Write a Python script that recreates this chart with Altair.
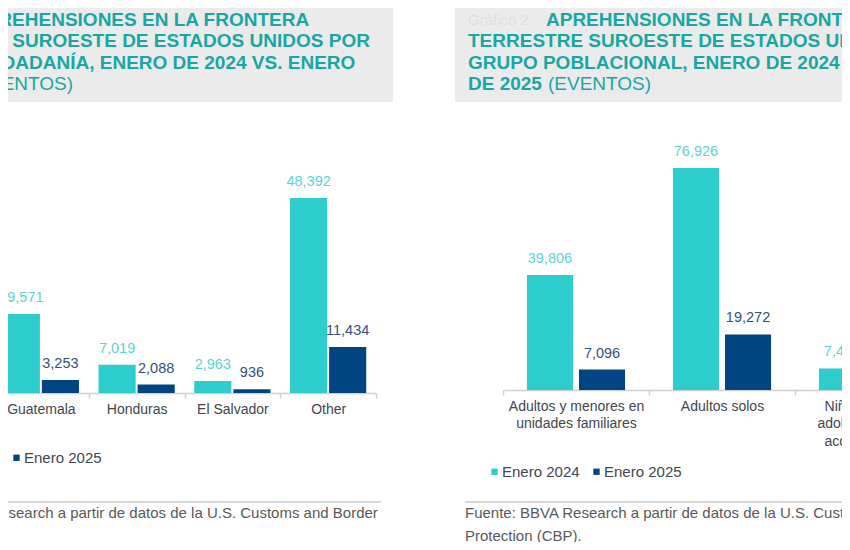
import altair as alt
import pandas as pd

FONT = "Liberation Sans"
TEAL = "#2DCCCD"
NAVY = "#004481"
TITLE = "#19A7A4"
LBL24 = "#5CD3D3"
LBL25 = "#34507A"
AXTXT = "#404650"
GRID = "#D0D0D0"

series = ["Enero 2024", "Enero 2025"]

# Left chart: by citizenship (visible categories)
paises = ["Guatemala", "Honduras", "El Salvador", "Other"]
pais_2024 = [19571, 7019, 2963, 48392]
pais_2025 = [3253, 2088, 936, 11434]

# Right chart: by population group
grupos = ["Adultos y menores en|unidades familiares", "Adultos solos",
          "Niñas, niños y|adolescentes no|acompañados"]
grupo_2024 = [39806, 76926, 7488]
grupo_2025 = [7096, 19272]

left_df = pd.DataFrame({
    "Categoria": paises + paises,
    "Serie": [series[0]] * len(paises) + [series[1]] * len(paises),
    "Valor": pais_2024 + pais_2025,
})
right_df = pd.DataFrame({
    "Categoria": grupos + grupos[:len(grupo_2025)],
    "Serie": [series[0]] * len(grupo_2024) + [series[1]] * len(grupo_2025),
    "Valor": grupo_2024 + grupo_2025,
})


def axis(offset):
    return alt.Axis(orient="bottom", title=None, labelAngle=0, tickBand="extent",
                    domainColor=GRID, domainWidth=1.5, tickColor=GRID, tickSize=5,
                    tickWidth=1.5, labelFont=FONT, labelFontSize=14, labelColor=AXTXT,
                    labelPadding=4, labelLineHeight=17.5, labelLimit=0,
                    labelExpr="split(datum.label, '|')", offset=offset, grid=False)


def legend(x, y):
    return alt.Legend(title=None, orient="none", legendX=x, legendY=y,
                      direction="horizontal", symbolType="square", symbolSize=40,
                      symbolStrokeWidth=0, labelFont=FONT, labelFontSize=15,
                      labelColor=AXTXT, labelOffset=0, columnPadding=9)


def panel(df, cats, xrange, pin, pout, ydomain, yrange, ax_off, lx, ly):
    x = alt.X("Categoria:N", sort=cats,
              scale=alt.Scale(domain=cats, range=xrange, paddingInner=0, paddingOuter=0),
              axis=axis(ax_off))
    xo = alt.XOffset("Serie:N", sort=series,
                     scale=alt.Scale(domain=series, paddingInner=pin, paddingOuter=pout))
    y = alt.Y("Valor:Q", scale=alt.Scale(domain=ydomain, range=yrange), axis=None)
    base = alt.Chart(df)
    bars = base.mark_bar().encode(
        x=x, xOffset=xo, y=y,
        color=alt.Color("Serie:N", scale=alt.Scale(domain=series, range=[TEAL, NAVY]),
                        legend=legend(lx, ly)),
    )
    labels = base.mark_text(dy=-12, baseline="alphabetic", font=FONT, fontSize=14.5).encode(
        x=x, xOffset=xo, y=y,
        text=alt.Text("Valor:Q", format=","),
        color=alt.condition("datum.Serie == 'Enero 2024'", alt.value(LBL24), alt.value(LBL25)),
    )
    return alt.layer(bars, labels)


left = panel(left_df, paises, [-15, 368], 0.05, 0.25, [0, 95500], [385, 0], 0, -101, 442)
right = panel(right_df, grupos, [495, 933], 0.115, 0.46, [0, 132350], [382, 0], -3, 479, 456)

one = alt.InlineData(values=[{"k": 0}])


def box(x1, x2, y1, y2, color):
    return alt.Chart(one).mark_rect(color=color).encode(
        x=alt.value(x1), x2=alt.value(x2), y=alt.value(y1), y2=alt.value(y2))


def txt(s, x, y, size, color, weight="normal", align="left"):
    return alt.Chart(one).mark_text(text=s, align=align, baseline="middle", font=FONT,
                                    fontSize=size, fontWeight=weight, color=color).encode(
        x=alt.value(x), y=alt.value(y))


def hline(x1, x2, y):
    return alt.Chart(one).mark_rule(color="#C8C8C8", strokeWidth=1.5).encode(
        x=alt.value(x1), x2=alt.value(x2), y=alt.value(y))


TS = 19
L1, L2, L3, L4 = 11.5, 33, 54.5, 76
SRC = "#595959"
decor = [
    box(-8, 385, -6, 94, "#EBEBEB"),
    box(447, 842, -6, 94, "#EBEBEB"),
    # left title
    txt("APREHENSIONES EN LA FRONTERA", -36, L1, TS, TITLE, "bold"),
    txt("TERRESTRE SUROESTE DE ESTADOS UNIDOS POR", -116, L2, TS, TITLE, "bold"),
    txt("PAÍS DE CIUDADANÍA, ENERO DE 2024 VS. ENERO", -119, L3, TS, TITLE, "bold"),
    txt("DE 2025", -119, L4, TS, TITLE, "bold"),
    txt("(EVENTOS)", -38, L4, TS, TITLE),
    # right title
    txt("Gráfico 2.", 460, L1, 15, "#E0E0E0"),
    txt("APREHENSIONES EN LA FRONTERA", 538, L1, TS, TITLE, "bold"),
    txt("TERRESTRE SUROESTE DE ESTADOS UNIDOS POR", 460, L2, TS, TITLE, "bold"),
    txt("GRUPO POBLACIONAL, ENERO DE 2024 VS. ENERO", 460, L3, TS, TITLE, "bold"),
    txt("DE 2025", 460, L4, TS, TITLE, "bold"),
    txt("(EVENTOS)", 540, L4, TS, TITLE),
    # separators and sources
    hline(-8, 373, 494),
    hline(457, 842, 494),
    txt("Fuente: BBVA Research a partir de datos de la U.S. Customs and Border", -116, 505, 15, SRC),
    txt("Protection (CBP).", -116, 528, 15, SRC),
    txt("Fuente: BBVA Research a partir de datos de la U.S. Customs and Border", 457, 505, 15, SRC),
    txt("Protection (CBP).", 457, 528, 15, SRC),
]

chart = alt.layer(*decor, left, right).resolve_scale(
    x="independent", y="independent", color="independent", xOffset="independent"
).properties(
    width=834, height=385,
    autosize=alt.AutoSizeParams(type="none"),
    padding={"left": 0, "top": 0, "right": 0, "bottom": 149},
    background="white",
).configure_view(stroke=None)

chart.save("out.html", embed_options={"renderer": "svg", "actions": False})
